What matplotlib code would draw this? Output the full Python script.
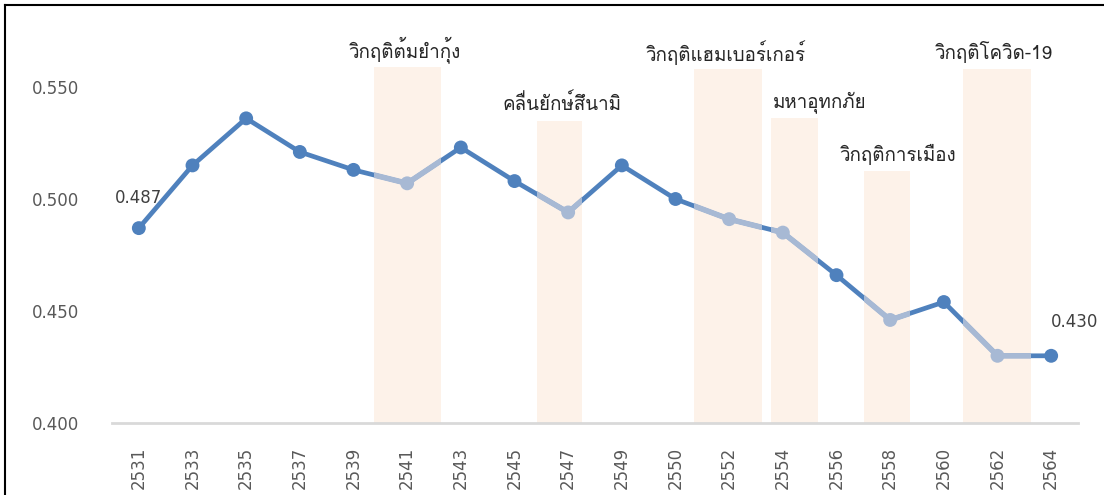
import matplotlib
matplotlib.use("Agg")
import matplotlib.pyplot as plt
from matplotlib import font_manager
from matplotlib.ft2font import FT2Font
from matplotlib.patches import Rectangle
from matplotlib.lines import Line2D

# data
years = ["2531", "2533", "2535", "2537", "2539", "2541", "2543", "2545", "2547",
         "2549", "2550", "2552", "2554", "2556", "2558", "2560", "2562", "2564"]
gini = [0.487, 0.515, 0.536, 0.521, 0.513, 0.507, 0.523, 0.508, 0.494,
        0.515, 0.500, 0.491, 0.485, 0.466, 0.446, 0.454, 0.430, 0.430]

crisis_names = ["วิกฤติต้มยำกุ้ง", "คลื่นยักษ์สึนามิ", "วิกฤติแฮมเบอร์เกอร์",
                "มหาอุทกภัย", "วิกฤติการเมือง", "วิกฤติโควิด-19"]
crisis_years = ["2541", "2547", "2552", "2554", "2558", "2562"]
# span of each shaded band, in category positions
crisis_start = [4.38, 7.42, 10.34, 11.78, 13.51, 15.35]
crisis_end = [5.63, 8.25, 11.61, 12.65, 14.37, 16.62]
crisis_top = [0.559, 0.535, 0.558, 0.536, 0.5125, 0.558]
# where the name sits (category position)
label_x = [4.96, 7.88, 10.94, 12.69, 14.14, 15.94]

DARK = "#4f81bd"
LIGHT = "#a7b9d4"
BAND = "#fdf2e9"
GREY = "#595959"


def thai_font():
    # first installed font that has Thai glyphs
    for f in font_manager.fontManager.ttflist:
        try:
            if 0x0E01 in FT2Font(f.fname).get_charmap():
                return f.name
        except Exception:
            pass
    return "DejaVu Sans"


thai = thai_font()
plt.rcParams['font.family'] = [thai, 'DejaVu Sans']

fig = plt.figure(figsize=(11.04, 4.95), dpi=100)
ax = fig.add_axes([112/1104, 72/495, 966/1104, 392/495])

x = list(range(len(years)))

# shaded crisis bands
bands = []
for s, e, t in zip(crisis_start, crisis_end, crisis_top):
    r = Rectangle((s, 0.400), e - s, t - 0.400, facecolor=BAND, edgecolor="none", zorder=1)
    ax.add_patch(r)
    bands.append((s, e))

# main line, dark
ax.plot(x, gini, color=DARK, lw=3.4, zorder=2, solid_capstyle="butt")
# light part of the line inside each band
for s, e in bands:
    clip = Rectangle((s, 0.3), e - s, 0.4, transform=ax.transData)
    ln, = ax.plot(x, gini, color=LIGHT, lw=4.0, zorder=3, solid_capstyle="butt")
    ln.set_clip_path(clip)

# markers
mcol = [LIGHT if y in crisis_years else DARK for y in years]
ax.scatter(x, gini, s=100, c=mcol, zorder=4, linewidths=0)

# crisis names
for name, lx, t in zip(crisis_names, label_x, crisis_top):
    ax.text(lx, t + 0.0075, name, ha="center", va="center", fontsize=13.5,
            color="#262626", zorder=5)

# first and last values
ax.annotate(f"{gini[0]:.3f}", (x[0], gini[0]), xytext=(0, 22), textcoords="offset points",
            ha="center", va="center", fontsize=12, color="#404040", family="DejaVu Sans")
ax.annotate(f"{gini[-1]:.3f}", (x[-1], gini[-1]), xytext=(0, 24), textcoords="offset points",
            ha="left", va="center", fontsize=12, color="#404040", family="DejaVu Sans")

ax.set_xlim(-0.5, len(years) - 0.5)
ax.set_ylim(0.400, 0.575)
ax.set_yticks([0.400, 0.450, 0.500, 0.550])
ax.set_yticklabels([f"{v:.3f}" for v in [0.400, 0.450, 0.500, 0.550]], family="DejaVu Sans")
ax.set_xticks(x)
ax.set_xticklabels(years, rotation=90, family="DejaVu Sans")
ax.tick_params(axis="both", length=0, labelsize=12, labelcolor=GREY)
ax.tick_params(axis="x", pad=17)
ax.tick_params(axis="y", pad=24)
for side in ["top", "right", "left"]:
    ax.spines[side].set_visible(False)
ax.spines["bottom"].set_color("#d9d9d9")
ax.spines["bottom"].set_linewidth(2)
ax.spines["bottom"].set_zorder(6)

# frame around the picture
fig.add_artist(Line2D([5/1104, 5/1104], [0, 1 - 5/495], color="black", lw=1.5))
fig.add_artist(Line2D([5/1104, 1], [1 - 5/495, 1 - 5/495], color="black", lw=1.5))

fig.savefig("out.png", dpi=100)
